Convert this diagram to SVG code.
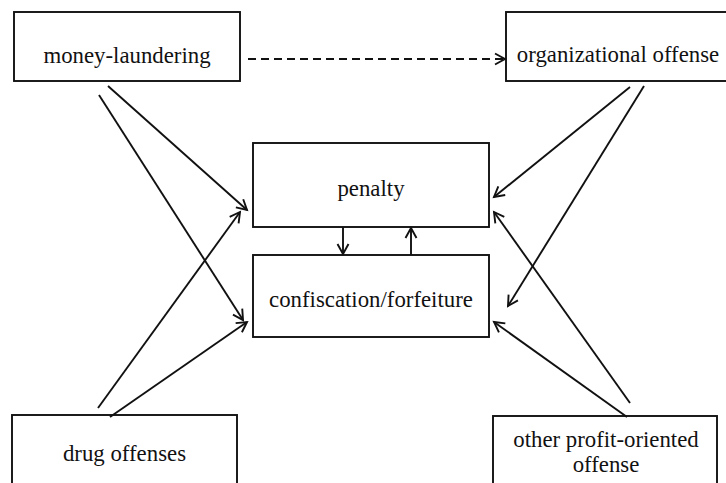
<svg xmlns="http://www.w3.org/2000/svg" width="726" height="483" viewBox="0 0 726 483">
<defs>
<marker id="ah" markerUnits="userSpaceOnUse" markerWidth="14" markerHeight="14" refX="11" refY="6" orient="auto" overflow="visible">
<path d="M1,0.5 L11,6 L1,11.5" fill="none" stroke="#111" stroke-width="1.9"/>
</marker>
</defs>
<style>
.box{fill:#fff;stroke:#111;stroke-width:1.9}
.t{font-family:"Liberation Serif","Times New Roman",serif;font-size:22.8px;fill:#111;text-anchor:middle}
.c{fill:none;stroke:#111;stroke-width:1.9;marker-end:url(#ah)}
.d{stroke-dasharray:8 5}
</style>
<rect width="726" height="483" fill="#fff"/>
<g id="money-laundering"><rect class="box" x="14" y="12" width="226" height="69"/><text class="t" x="127" y="63">money-laundering</text></g>
<g id="organizational-offense"><rect class="box" x="506" y="12" width="224" height="69"/><text class="t" x="618" y="62">organizational offense</text></g>
<g id="penalty"><rect class="box" x="253" y="143" width="236" height="84"/><text class="t" x="371" y="196">penalty</text></g>
<g id="confiscation"><rect class="box" x="253" y="255" width="236" height="82"/><text class="t" x="371" y="307">confiscation/forfeiture</text></g>
<g id="drug-offenses"><rect class="box" x="12" y="415" width="225" height="80"/><text class="t" x="124.5" y="461">drug offenses</text></g>
<g id="other-profit"><rect class="box" x="493" y="416" width="224" height="80"/><text class="t" x="606" y="447">other profit-oriented</text><text class="t" x="606" y="472">offense</text></g>
<g id="connectors">
<line class="c d" x1="248" y1="59" x2="505" y2="59"/>
<line class="c" x1="108" y1="86" x2="247" y2="210"/>
<line class="c" x1="99" y1="95" x2="243" y2="320"/>
<line class="c" x1="98" y1="408" x2="240" y2="212"/>
<line class="c" x1="110" y1="417" x2="247" y2="322"/>
<line class="c" x1="630" y1="87" x2="494" y2="197"/>
<line class="c" x1="644" y1="86" x2="508" y2="306"/>
<line class="c" x1="630" y1="403" x2="494" y2="212"/>
<line class="c" x1="627" y1="417" x2="494" y2="322"/>
<line class="c" x1="343" y1="227" x2="343" y2="254"/>
<line class="c" x1="411" y1="255" x2="411" y2="228"/>
</g>
</svg>
